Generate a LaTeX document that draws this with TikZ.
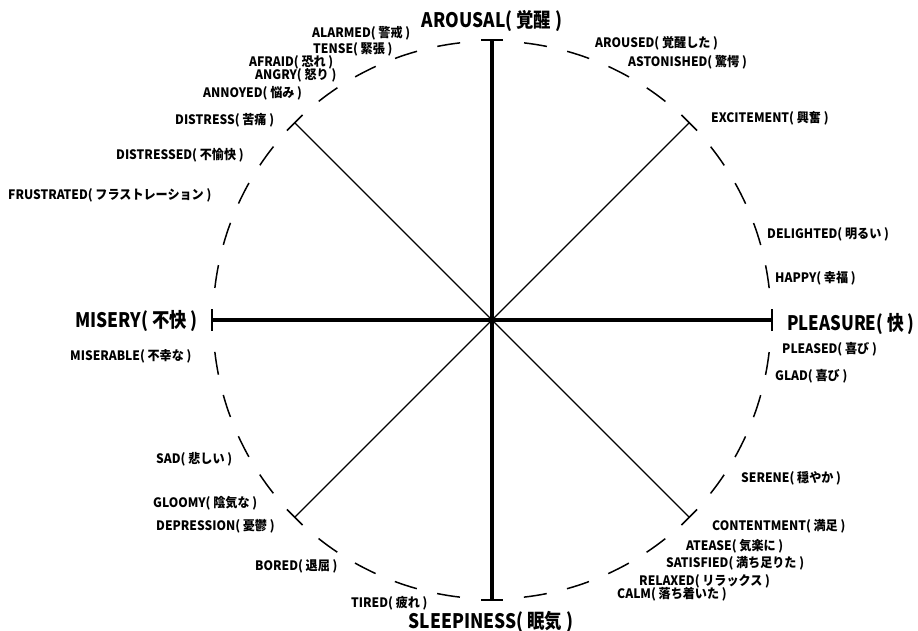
\documentclass[tikz,border=0pt]{standalone}
\usepackage{fontspec}
\setmainfont{Noto Sans CJK JP}
\newfontfamily\labfont{Noto Sans CJK JP}[FakeStretch=0.93]
\newfontfamily\bigfont{Noto Sans CJK JP}[FakeStretch=0.87]
\newfontfamily\bignarrow{Noto Sans CJK JP}[FakeStretch=0.84]
\usetikzlibrary{calc}
\begin{document}
\begin{tikzpicture}[x=1pt,y=-1pt,
  lab/.style={font=\labfont\bfseries\fontsize{13}{13}\selectfont, inner sep=0pt, anchor=base west},
  big/.style={font=\bigfont\bfseries\fontsize{20}{20}\selectfont, inner sep=0pt, anchor=base west},
  axisline/.style={line width=4.5pt},
  diagline/.style={line width=1.4pt},
  endtick/.style={line width=1.6pt},
  ring/.style={line width=1.5pt}]
\useasboundingbox (0,0) rectangle (918,631);
\coordinate (O) at (492,320);
\coordinate (N) at (492,40);
\coordinate (S) at (492,600);
\coordinate (W) at (212,320);
\coordinate (E) at (772,320);
\coordinate (NW) at (294.7,122.7);
\coordinate (NE) at (689.3,122.7);
\coordinate (SW) at (294.7,517.3);
\coordinate (SE) at (689.3,517.3);
% dashed circle: 8 arcs of 4 dashes
\foreach \k in {0,...,7}{
  \foreach \j in {0,...,3}{
    \pgfmathsetmacro\a{45*\k+6.6+9.03*\j}
    \draw[ring] ($(O)+(\a:279)$) arc[start angle=\a, delta angle=4.75, radius=279];
  }
}
% diagonals
\draw[diagline] (NW) -- (SE);
\draw[diagline] (NE) -- (SW);
\foreach \p in {NW,NE,SW,SE}{
  \draw[endtick] ($(\p)!11pt!90:(O)$) -- ($(\p)!11pt!-90:(O)$);
}
% axes
\draw[axisline] (N) -- (S);
\draw[axisline] (W) -- (E);
\foreach \p in {N,S,W,E}{
  \draw[endtick] ($(\p)!11pt!90:(O)$) -- ($(\p)!11pt!-90:(O)$);
}
% main labels
\node[big, anchor=base] (arousal) at (492,28) {AROUSAL( 覚醒 )};
\node[big, anchor=base] (sleepiness) at (491,628) {SLEEPINESS( 眠気 )};
\node[big, font=\bignarrow\bfseries\fontsize{20}{20}\selectfont] (pleasure) at (787,330) {PLEASURE( 快 )};
\node[big] (misery) at (75,327) {MISERY( 不快 )};
% upper left
\node[lab] (alarmed) at (312,38) {ALARMED( 警戒 )};
\node[lab] (tense) at (313,54) {TENSE( 緊張 )};
\node[lab] (afraid) at (249,67) {AFRAID( 恐れ )};
\node[lab] (angry) at (255,80) {ANGRY( 怒り )};
\node[lab] (annoyed) at (203,98) {ANNOYED( 悩み )};
\node[lab] (distress) at (175,125) {DISTRESS( 苦痛 )};
\node[lab] (distressed) at (116,160) {DISTRESSED( 不愉快 )};
\node[lab] (frustrated) at (8,200) {FRUSTRATED( フラストレーション )};
% upper right
\node[lab] (aroused) at (595,48) {AROUSED( 覚醒した )};
\node[lab] (astonished) at (628,67) {ASTONISHED( 驚愕 )};
\node[lab] (excitement) at (711,123) {EXCITEMENT( 興奮 )};
\node[lab] (delighted) at (767,238) {DELIGHTED( 明るい )};
\node[lab] (happy) at (775,282) {HAPPY( 幸福 )};
% lower right
\node[lab] (pleased) at (782,353) {PLEASED( 喜び )};
\node[lab] (glad) at (775,380) {GLAD( 喜び )};
\node[lab] (serene) at (741,482) {SERENE( 穏やか )};
\node[lab] (contentment) at (712,530) {CONTENTMENT( 満足 )};
\node[lab] (atease) at (686,550) {ATEASE( 気楽に )};
\node[lab] (satisfied) at (666,567) {SATISFIED( 満ち足りた )};
\node[lab] (relaxed) at (639,585) {RELAXED( リラックス )};
\node[lab] (calm) at (617,598) {CALM( 落ち着いた )};
% lower left
\node[lab] (miserable) at (70,360) {MISERABLE( 不幸な )};
\node[lab] (sad) at (156,463) {SAD( 悲しい )};
\node[lab] (gloomy) at (153,507) {GLOOMY( 陰気な )};
\node[lab] (depression) at (156,530) {DEPRESSION( 憂鬱 )};
\node[lab] (bored) at (255,570) {BORED( 退屈 )};
\node[lab] (tired) at (351,607) {TIRED( 疲れ )};
\end{tikzpicture}
\end{document}
